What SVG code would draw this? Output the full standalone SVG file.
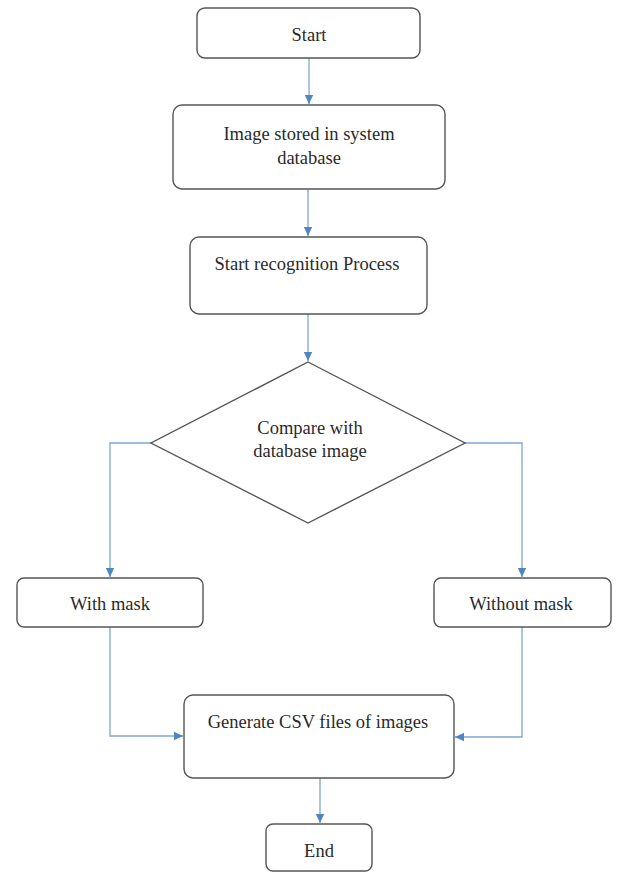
<svg xmlns="http://www.w3.org/2000/svg" width="618" height="874" viewBox="0 0 618 874">
<style>
.n{fill:#fff;stroke:#555;stroke-width:1.4}
.t{font-family:"Liberation Serif",serif;font-size:18.5px;fill:#2a2a2a;text-anchor:middle}
.c{fill:none;stroke:#7ea8d2;stroke-width:1.3}
</style>
<defs>
<marker id="a" markerWidth="10" markerHeight="10" refX="9" refY="5" orient="auto" markerUnits="userSpaceOnUse">
<path d="M0,0.8 L9,5 L0,9.2 Z" fill="#4f86c0"/>
</marker>
</defs>
<rect width="618" height="874" fill="#fff"/>
<g id="connectors">
<path class="c" d="M309,58 V104" marker-end="url(#a)"/>
<path class="c" d="M308,189 V236" marker-end="url(#a)"/>
<path class="c" d="M308,314 V361" marker-end="url(#a)"/>
<path class="c" d="M151,443 H110 V577" marker-end="url(#a)"/>
<path class="c" d="M465,443 H522 V577" marker-end="url(#a)"/>
<path class="c" d="M110,627 V736 H183" marker-end="url(#a)"/>
<path class="c" d="M522,627 V737 H455" marker-end="url(#a)"/>
<path class="c" d="M320,778 V823" marker-end="url(#a)"/>
</g>
<g id="start">
<rect class="n" x="197" y="8" width="223" height="50" rx="8"/>
<text class="t" x="309" y="41">Start</text>
</g>
<g id="stored">
<rect class="n" x="173" y="105" width="272" height="84" rx="9"/>
<text class="t" x="309" y="140">Image stored in system</text>
<text class="t" x="309" y="164">database</text>
</g>
<g id="recognition">
<rect class="n" x="190" y="237" width="237" height="77" rx="9"/>
<text class="t" x="307" y="270">Start recognition Process</text>
</g>
<g id="compare">
<polygon class="n" points="308,362 465,443 308,523 151,443"/>
<text class="t" x="310" y="434">Compare with</text>
<text class="t" x="310" y="457">database image</text>
</g>
<g id="withmask">
<rect class="n" x="17" y="578" width="186" height="49" rx="7"/>
<text class="t" x="110" y="610">With mask</text>
</g>
<g id="withoutmask">
<rect class="n" x="434" y="578" width="177" height="49" rx="7"/>
<text class="t" x="521" y="610">Without mask</text>
</g>
<g id="generate">
<rect class="n" x="184" y="695" width="270" height="83" rx="9"/>
<text class="t" x="318" y="728">Generate CSV files of images</text>
</g>
<g id="end">
<rect class="n" x="266" y="824" width="106" height="47" rx="7"/>
<text class="t" x="319" y="857">End</text>
</g>
</svg>
